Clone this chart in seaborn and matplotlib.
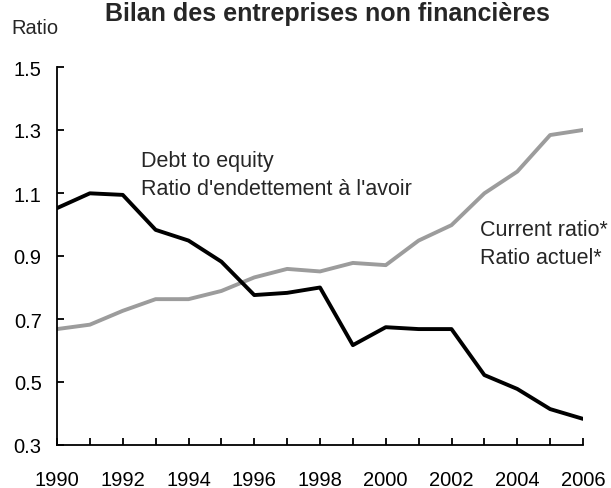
import matplotlib
matplotlib.use("Agg")
import matplotlib.pyplot as plt
import seaborn as sns
import pandas as pd

years = list(range(1990, 2007))
debt_to_equity = [1.052, 1.099, 1.094, 0.983, 0.949, 0.882, 0.776, 0.783, 0.800,
                  0.617, 0.674, 0.668, 0.668, 0.522, 0.478, 0.414, 0.383]
current_ratio = [0.668, 0.682, 0.726, 0.763, 0.763, 0.789, 0.832, 0.859, 0.851,
                 0.878, 0.871, 0.949, 0.998, 1.099, 1.168, 1.284, 1.300]
y_ticks = [0.3, 0.5, 0.7, 0.9, 1.1, 1.3, 1.5]
x_ticks = list(range(1990, 2007, 2))

sns.set_theme(style="white")
plt.rcParams["font.family"] = ["Liberation Sans", "DejaVu Sans"]

df = pd.DataFrame({
    "year": years * 2,
    "value": debt_to_equity + current_ratio,
    "series": ["debt"] * len(years) + ["current"] * len(years),
})

fig = plt.figure(figsize=(6.11, 4.89), dpi=100)
ax = fig.add_axes([57 / 611, 1 - 446 / 489, (583 - 57) / 611, (446 - 68) / 489])

sns.lineplot(data=df, x="year", y="value", hue="series",
             palette={"debt": "#000000", "current": "#9c9c9c"},
             hue_order=["current", "debt"], linewidth=2.8, legend=False, ax=ax)

ax.set_xlim(1990, 2006)
ax.set_ylim(0.3, 1.5)
ax.set_xticks(years)
ax.set_xticklabels([str(y) if y in x_ticks else "" for y in years])
ax.set_yticks(y_ticks)
ax.set_yticklabels([f"{v:.1f}" for v in y_ticks])
ax.set_xlabel("")
ax.set_ylabel("")

for side in ["top", "right"]:
    ax.spines[side].set_visible(False)
for side in ["left", "bottom"]:
    ax.spines[side].set_color("black")
    ax.spines[side].set_linewidth(1.3)

FS = 14.5
NOTE_FS = 15.5
ax.tick_params(axis="both", direction="in", length=5, width=1.3, colors="black",
               labelsize=FS, bottom=True, left=True)
ax.tick_params(axis="x", pad=18)
ax.tick_params(axis="y", pad=11)

ax.text(1992.55, 1.237, "Debt to equity\nRatio d'endettement à l'avoir",
        fontsize=NOTE_FS, va="top", ha="left", linespacing=1.42)
ax.text(2002.87, 1.017, "Current ratio*\nRatio actuel*",
        fontsize=NOTE_FS, va="top", ha="left", linespacing=1.42)

fig.text(11 / 611, 1 - 29 / 489, "Ratio", fontsize=FS, va="center", ha="left")
fig.text(327 / 611, 1 - 14 / 489, "Bilan des entreprises non financières",
         fontsize=18, fontweight="bold", va="center", ha="center")

fig.savefig("out.png", dpi=100, facecolor="white")
